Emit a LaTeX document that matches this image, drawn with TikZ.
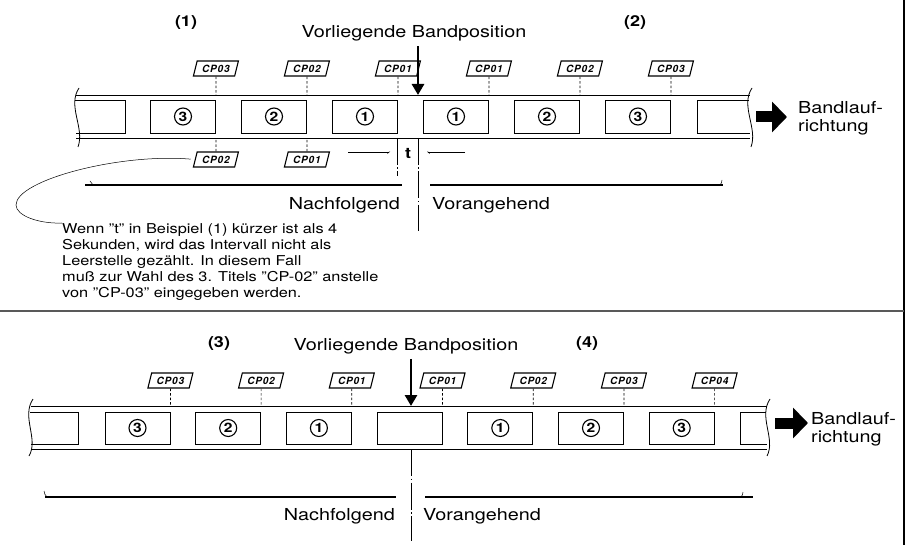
\documentclass[tikz,border=0pt]{standalone}
\usepackage{fontspec}
\setmainfont{TeX Gyre Heros}[FakeStretch=1.2]
\newfontfamily\segfont{TeX Gyre Heros}[LetterSpace=8]
\usetikzlibrary{arrows.meta, shapes.geometric, positioning}

\tikzset{
  tape/.style={line width=0.8pt},
  cell/.style={draw, line width=0.8pt, minimum width=65pt, minimum height=33pt, inner sep=0pt},
  circnum/.style={draw, circle, line width=1.1pt, minimum size=17pt, inner sep=0pt,
    font=\bfseries\fontsize{13}{13}\selectfont},
  cp/.style={draw, trapezium, trapezium left angle=70, trapezium right angle=110,
    trapezium stretches=true, line width=1.1pt, minimum width=45pt, minimum height=15pt,
    inner sep=0pt, font=\segfont\bfseries\itshape\fontsize{10}{10}\selectfont},
  lead/.style={line width=0.7pt, dash pattern=on 2.5pt off 2pt},
  axisline/.style={line width=0.8pt, dash pattern=on 27pt off 2.5pt on 1.5pt off 2.5pt},
  extent/.style={line width=2.9pt},
  pointer/.style={line width=2.8pt, -{Triangle[length=11pt, width=12pt]}},
  bigarrow/.style={line width=11pt, -{Triangle[length=15pt, width=30pt]}},
  dim/.style={line width=0.5pt},
  lbl/.style={inner sep=0pt, font=\fontsize{16.5}{18}\selectfont},
  note/.style={inner sep=0pt, align=left, font=\fontsize{13.6}{16}\selectfont},
  case/.style={inner sep=0pt, font=\bfseries\fontsize{15}{15}\selectfont}
}

\begin{document}
\begin{tikzpicture}[x=1pt, y=-1pt]
\useasboundingbox (0,0) rectangle (907,545);

% frame of the figure
\draw[line width=1.5pt] (904,0) -- (904,545);
\draw[line width=1.2pt, black!65] (0,311) -- (904,311);

%%%%% upper example
\node[case, anchor=base] (c1) at (186,27) {(1)};
\node[case, anchor=base] (c2) at (635,27) {(2)};
\node[lbl, anchor=base] (pos1) at (414,37.5) {Vorliegende Bandposition};

% tape
\draw[tape] (76,95) -- (750,95);
\draw[tape] (76,138) -- (750,138);
\draw[tape] (79,88) .. controls (67,106) and (85,128) .. (78,147);
\draw[tape] (752,88) .. controls (740,106) and (758,128) .. (751,147);
\draw[tape] (75,100) -- (125,100) -- (125,133) -- (76,133);
\draw[tape] (749,100) -- (697,100) -- (697,133) -- (750,133);

\foreach \k/\lab in {0/3,1/2,2/1,3/1,4/2,5/3} {
  \node[cell] (a\k) at (183+91*\k,116.5) {};
  \node[circnum] (na\k) at (a\k) {\lab};
  \node[cp] (ua\k) at (a\k.east |- 0,68.5) {CP0\lab};
  \draw[lead] (ua\k) -- (ua\k |- 0,95);
}
\foreach \k/\lab in {0/2,1/1} {
  \node[cp] (cpb\k) at (a\k.east |- 0,159.5) {CP0\lab};
  \draw[lead] (cpb\k) -- (cpb\k |- 0,138);
}

\coordinate (p1) at (418,95);
\draw[pointer, shorten <=5pt] (p1 |- pos1.south) -- (p1);

% gap t
\draw[axisline] (397,138) -- (397,176);
\draw[axisline] (418,138) -- (418,231);
\node[case, anchor=base] (tmark) at (408,159) {t};
\draw[dim, -{Straight Barb[right, length=2pt, width=3pt]}] (348,152) -- (390,152);
\draw[dim, -{Straight Barb[left, length=2pt, width=3pt]}] (465,152) -- (427,152);

% before / after
\draw[extent] (85,185) -- (402,185);
\draw[extent] (430,185) -- (723,185);
\draw[dim] (90,181) to[bend right=20] (93,185);
\draw[dim] (720,185) to[bend right=20] (722,180);
\node[lbl, anchor=base east] (after1) at (400,210) {Nachfolgend};
\node[lbl, anchor=base west] (before1) at (432,210) {Vorangehend};

% tape direction
\node[lbl, align=left, anchor=west] (dir1) at (798,118) {Bandlauf-\\richtung};
\coordinate (b1) at (756,117);
\draw[bigarrow, shorten >=11pt] (b1) -- (b1 -| dir1.west);

% remark
\node[note, anchor=north west] (remark) at (62,223) {Wenn "t" in Beispiel (1) kürzer ist als 4\\
Sekunden, wird das Intervall nicht als\\
Leerstelle gezählt. In diesem Fall\\
muß zur Wahl des 3. Titels "CP-02" anstelle\\
von "CP-03" eingegeben werden.};
\draw[dim, shorten <=4pt] (cpb0.west) .. controls (120,153) and (16,180) .. (16,205)
  .. controls (16,216) and (40,224) .. (remark.north west);

%%%%% lower example
\node[case, anchor=base] (c3) at (219,347) {(3)};
\node[case, anchor=base] (c4) at (587,347) {(4)};
\node[lbl, anchor=base] (pos2) at (406,350) {Vorliegende Bandposition};

% tape
\draw[tape] (31,406) -- (767,406);
\draw[tape] (31,449) -- (767,449);
\draw[tape] (33,399) .. controls (21,417) and (39,439) .. (29,456);
\draw[tape] (770,399) .. controls (758,417) and (776,439) .. (767,456);
\draw[tape] (30,412) -- (78,412) -- (78,444) -- (31,444);
\draw[tape] (766,412) -- (740,412) -- (740,444) -- (767,444);

\foreach \k/\lab in {0/3,1/2,2/1,3/1,4/2,5/3,6/4} {
  \node[cell, minimum height=32pt] (b\k) at (137.5+90.7*\k,428) {};
  \node[cp] (ub\k) at (b\k.east |- 0,380.5) {CP0\lab};
  \draw[lead] (ub\k) -- (ub\k |- 0,406);
}
% numbers, the frame at the tape position stays empty
\foreach \k/\lab in {0/3,1/2,2/1,4/1,5/2,6/3}
  \node[circnum] (nb\k) at (b\k) {\lab};

\coordinate (p2) at (411,406);
\draw[pointer, shorten <=5pt] (p2 |- pos2.south) -- (p2);
\draw[axisline] (411,449) -- (411,541);

% before / after
\draw[extent] (45,497) -- (396,497);
\draw[extent] (425,497) -- (753,497);
\draw[dim] (44,491) to[bend right=20] (47,497);
\draw[dim] (741,497) to[bend right=20] (743,492);
\node[lbl, anchor=base east] (after2) at (395,520) {Nachfolgend};
\node[lbl, anchor=base west] (before2) at (423,520) {Vorangehend};

% tape direction
\node[lbl, align=left, anchor=west] (dir2) at (811,429) {Bandlauf-\\richtung};
\coordinate (b2) at (775,423);
\draw[bigarrow, shorten >=3pt] (b2) -- (b2 -| dir2.west);

\end{tikzpicture}
\end{document}
